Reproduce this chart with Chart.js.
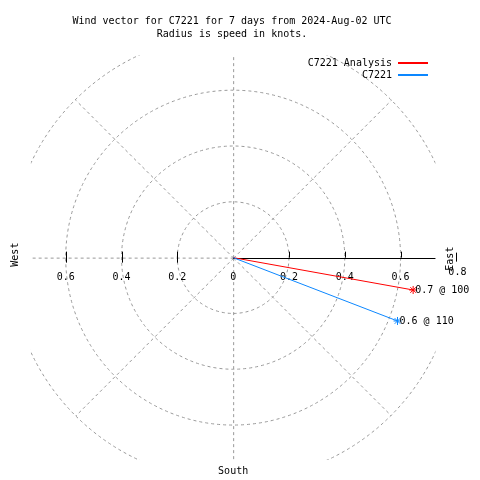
<!DOCTYPE html>
<html>
<head>
<meta charset="utf-8">
<script src="https://cdn.jsdelivr.net/npm/chart.js@4"></script>
<style>
  html, body { margin: 0; padding: 0; background: #fff; }
  #wind { display: block; }
</style>
</head>
<body>
<canvas id="wind" width="480" height="480"></canvas>
<script>
// series (knots, east / north components)
const seriesNames = ['C7221 Analysis', 'C7221'];
const eastComp = [0.645, 0.589];
const northComp = [-0.116, -0.227];
const vectorLabels = ['0.7 @ 100', '0.6 @ 110'];
const seriesColors = ['#ff0000', '#0c87ff'];

// polar grid
const ringRadii = [0.2, 0.4, 0.6, 0.8];
const spokeAngles = [45, 90, 135, 180, 225, 270, 315];
const leftTicks = [-0.6, -0.4, -0.2];
const leftTickLabels = ['0.6', '0.4', '0.2'];
const rightTicks = [0, 0.2, 0.4, 0.6];
const rightTickLabels = ['0', '0.2', '0.4', '0.6'];

const titleLines = ['Wind vector for C7221 for 7 days from 2024-Aug-02 UTC', 'Radius is speed in knots.'];

// view: centre at (233,258), 285 px per knot
const PX = 285;
const BOX = 0.725; // plot border in knots
const FONT = '10px "DejaVu Sans Mono", "Liberation Mono", monospace';

const polarGrid = {
    id: 'polarGrid',
    beforeDatasetsDraw(chart) {
        const { ctx, scales: { x, y } } = chart;
        const cx = x.getPixelForValue(0), cy = y.getPixelForValue(0);
        const k = x.getPixelForValue(1) - cx;
        const bl = x.getPixelForValue(-BOX), br = x.getPixelForValue(BOX);
        const bt = y.getPixelForValue(BOX), bb = y.getPixelForValue(-BOX);

        ctx.save();
        ctx.beginPath();
        ctx.rect(bl, bt, br - bl, bb - bt);
        ctx.clip();
        ctx.strokeStyle = '#999999';
        ctx.lineWidth = 1;
        ctx.setLineDash([3, 3]);
        ringRadii.forEach(r => {
            ctx.beginPath();
            ctx.arc(cx, cy, r * k, 0, Math.PI * 2);
            ctx.stroke();
        });
        spokeAngles.forEach(a => {
            const t = a * Math.PI / 180;
            ctx.beginPath();
            ctx.moveTo(cx + 0.5, cy + 0.5);
            ctx.lineTo(cx + 0.5 + Math.cos(t) * 0.8 * k, cy + 0.5 - Math.sin(t) * 0.8 * k);
            ctx.stroke();
        });
        ctx.restore();

        // east axis, solid black
        ctx.save();
        ctx.strokeStyle = '#000';
        ctx.lineWidth = 1;
        ctx.beginPath();
        ctx.moveTo(cx, Math.round(cy) + 0.5);
        ctx.lineTo(br, Math.round(cy) + 0.5);
        ctx.stroke();
        ctx.beginPath();
        leftTicks.forEach(v => {
            const px = Math.round(x.getPixelForValue(v)) + 0.5;
            ctx.moveTo(px, cy - 6);
            ctx.lineTo(px, cy + 5);
        });
        rightTicks.slice(1).forEach(v => {
            const px = Math.round(x.getPixelForValue(v)) + 0.5;
            ctx.moveTo(px, cy - 6);
            ctx.lineTo(px, cy);
        });
        const p8 = Math.round(x.getPixelForValue(0.8)) + 0.5;
        ctx.moveTo(p8, cy - 5);
        ctx.lineTo(p8, cy + 4);
        ctx.stroke();

        ctx.fillStyle = '#000';
        ctx.font = FONT;
        ctx.textAlign = 'center';
        ctx.textBaseline = 'alphabetic';
        leftTicks.forEach((v, i) => ctx.fillText(leftTickLabels[i], x.getPixelForValue(v), cy + 22));
        rightTicks.forEach((v, i) => ctx.fillText(rightTickLabels[i], x.getPixelForValue(v), cy + 22));
        ctx.fillText('0.8', x.getPixelForValue(0.8) + 1, cy + 17);
        ctx.fillText('South', cx, y.getPixelForValue(-BOX) + 14);

        ctx.save();
        ctx.translate(br + 15, cy + 1);
        ctx.rotate(-Math.PI / 2);
        ctx.textBaseline = 'middle';
        ctx.fillText('East', 0, 0);
        ctx.restore();
        ctx.save();
        ctx.translate(15, cy - 3);
        ctx.rotate(-Math.PI / 2);
        ctx.textBaseline = 'middle';
        ctx.fillText('West', 0, 0);
        ctx.restore();
        ctx.restore();
    },
    afterDraw(chart) {
        const { ctx, scales: { x, y } } = chart;
        ctx.save();
        ctx.setLineDash([]);
        ctx.font = FONT;
        ctx.fillStyle = '#000';
        // title
        ctx.textAlign = 'center';
        ctx.fillText(titleLines[0], 232, 24);
        ctx.fillText(titleLines[1], 232, 37);
        // legend
        seriesNames.forEach((name, i) => {
            const ly = 63 + i * 12;
            ctx.textAlign = 'right';
            ctx.textBaseline = 'middle';
            ctx.fillStyle = '#000';
            ctx.fillText(name, 392, ly);
            ctx.fillStyle = seriesColors[i];
            ctx.fillRect(398, ly - 1, 30, 2);
        });
        // vector end labels
        ctx.textAlign = 'left';
        ctx.textBaseline = 'middle';
        ctx.fillStyle = '#000';
        vectorLabels.forEach((lab, i) => {
            ctx.fillText(lab, x.getPixelForValue(eastComp[i]) + 2, y.getPixelForValue(northComp[i]) + 0.5);
        });
        ctx.restore();
    }
};

const datasets = seriesNames.map((name, i) => ({
    label: name,
    data: [{ x: 0, y: 0 }, { x: eastComp[i], y: northComp[i] }],
    showLine: true,
    borderColor: seriesColors[i],
    backgroundColor: seriesColors[i],
    borderWidth: 1,
    pointStyle: 'star',
    pointRadius: [0, 4],
    pointBorderWidth: 1,
    pointBorderColor: seriesColors[i]
}));

new Chart(document.getElementById('wind'), {
    type: 'scatter',
    data: { datasets: datasets.reverse() },
    options: {
        responsive: false,
        animation: false,
        devicePixelRatio: 1,
        layout: { padding: 0 },
        plugins: { legend: { display: false }, title: { display: false }, tooltip: { enabled: false } },
        scales: {
            x: { type: 'linear', display: false, min: -233 / PX, max: 247 / PX },
            y: { type: 'linear', display: false, min: -222 / PX, max: 258 / PX }
        }
    },
    plugins: [polarGrid]
});
</script>
</body>
</html>
